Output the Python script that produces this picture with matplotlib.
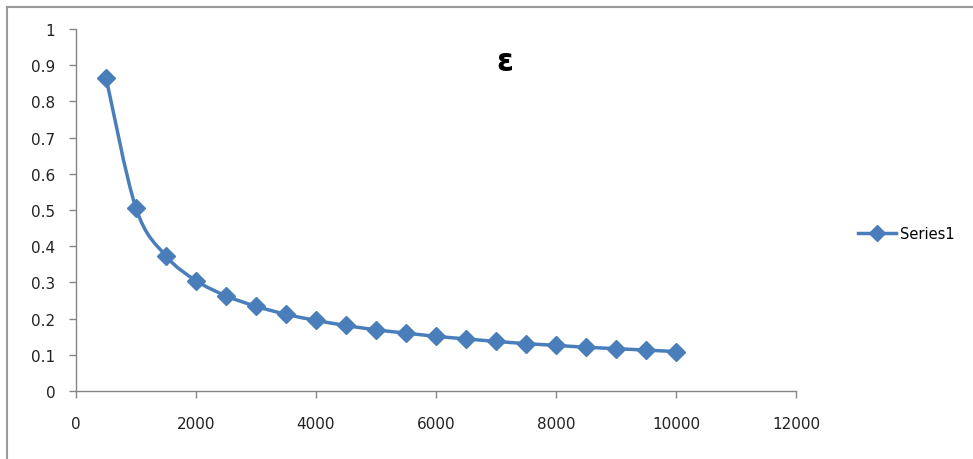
import matplotlib.pyplot as plt
from matplotlib.path import Path
from matplotlib.patches import PathPatch
from matplotlib.lines import Line2D

x_vals = [500, 1000, 1500, 2000, 2500, 3000, 3500, 4000, 4500, 5000,
          5500, 6000, 6500, 7000, 7500, 8000, 8500, 9000, 9500, 10000]
eps_vals = [0.866, 0.505, 0.373, 0.305, 0.263, 0.234, 0.212, 0.195, 0.181, 0.169,
            0.160, 0.151, 0.144, 0.137, 0.131, 0.126, 0.121, 0.117, 0.113, 0.109]
x_ticks = [0, 2000, 4000, 6000, 8000, 10000, 12000]
y_ticks = [0, 0.1, 0.2, 0.3, 0.4, 0.5, 0.6, 0.7, 0.8, 0.9, 1]

blue = '#4a7ebb'
grey = '#868686'
plt.rcParams['font.family'] = ['DejaVu Sans']

fig = plt.figure(figsize=(9.73, 4.6), dpi=100)
ax = fig.add_axes([0.0781, 0.1478, 0.7399, 0.787])

# smoothed line like Excel (bezier through the points)
verts = [(x_vals[0], eps_vals[0])]
codes = [Path.MOVETO]
n = len(x_vals)
for i in range(n - 1):
    p0 = (x_vals[max(i - 1, 0)], eps_vals[max(i - 1, 0)])
    p1 = (x_vals[i], eps_vals[i])
    p2 = (x_vals[i + 1], eps_vals[i + 1])
    p3 = (x_vals[min(i + 2, n - 1)], eps_vals[min(i + 2, n - 1)])
    c1 = (p1[0] + (p2[0] - p0[0]) / 6, p1[1] + (p2[1] - p0[1]) / 6)
    c2 = (p2[0] - (p3[0] - p1[0]) / 6, p2[1] - (p3[1] - p1[1]) / 6)
    verts += [c1, c2, p2]
    codes += [Path.CURVE4] * 3
ax.add_patch(PathPatch(Path(verts, codes), facecolor='none', edgecolor=blue, lw=2.5, zorder=3))
ax.plot(x_vals, eps_vals, linestyle='none', marker='D', markersize=9, color=blue, zorder=4)

ax.set_xlim(0, 12000)
ax.set_ylim(0, 1)
ax.set_xticks(x_ticks)
ax.set_yticks(y_ticks)
ax.set_yticklabels(['0', '0.1', '0.2', '0.3', '0.4', '0.5', '0.6', '0.7', '0.8', '0.9', '1'])
for s in ['top', 'right']:
    ax.spines[s].set_visible(False)
for s in ['left', 'bottom']:
    ax.spines[s].set_color(grey)
    ax.spines[s].set_linewidth(1)
ax.tick_params(axis='both', colors=grey, length=5, width=1, labelsize=11, labelcolor='#222222')
ax.tick_params(axis='x', pad=13)
ax.tick_params(axis='y', pad=10)

fig.text(0.519, 0.865, 'ε', fontsize=22, fontweight='bold', ha='center', va='center')

handle = Line2D([], [], color=blue, lw=2.5, marker='D', markersize=8)
fig.legend([handle], ['Series1'], loc='center left', bbox_to_anchor=(0.868, 0.49),
           frameon=False, fontsize=10.5, handlelength=2.6, handletextpad=0.3)

# chart frame
fig.add_artist(Line2D([0.0072, 0.0072], [0, 0.983], color='#9a9a9a', lw=1.5, transform=fig.transFigure))
fig.add_artist(Line2D([0.0072, 1], [0.983, 0.983], color='#9a9a9a', lw=1.5, transform=fig.transFigure))

fig.savefig('out.png', dpi=100)
